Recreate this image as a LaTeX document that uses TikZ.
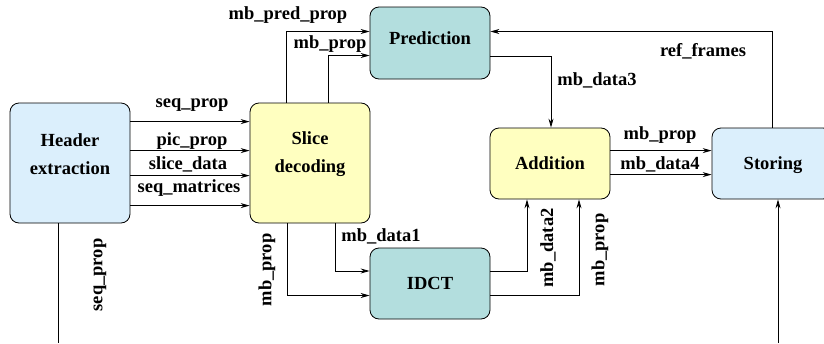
\documentclass[tikz,border=0pt]{standalone}
\usepackage{fontspec}
\setmainfont{Liberation Serif}
\usetikzlibrary{arrows.meta}
\definecolor{boxblue}{HTML}{DBEFFC}
\definecolor{boxyellow}{HTML}{FFFFC0}
\definecolor{boxteal}{HTML}{B3DEDE}
\tikzset{
  block/.style={draw=black, line width=0.8pt, rounded corners=9pt, inner sep=0pt},
  blockwide/.style={block, minimum width=120pt, minimum height=120pt},
  blockflat/.style={block, minimum width=120pt, minimum height=71pt},
  txt/.style={font=\fontsize{18.5}{28}\selectfont\bfseries, inner sep=0pt, align=center},
  lbl/.style={font=\fontsize{18.5}{22}\selectfont\bfseries, inner sep=0pt},
  arr/.style={line width=0.8pt, -{Stealth[length=9pt,width=5pt,inset=3pt]}},
  wire/.style={line width=0.8pt}
}
\begin{document}
\begin{tikzpicture}[x=1pt, y=-1pt]
\useasboundingbox (0,0) rectangle (824,343);
\clip (0,0) rectangle (824,343);

% blocks
\node[blockwide, fill=boxblue]   (hdr)  at (70,163)   {};
\node[blockwide, fill=boxyellow] (slc)  at (310,163)  {};
\node[blockflat, fill=boxteal, minimum height=72pt] (pred) at (430,43) {};
\node[blockflat, fill=boxteal]   (idct) at (430,283.5) {};
\node[blockflat, fill=boxyellow] (add)  at (550,163.5) {};
\node[blockflat, fill=boxblue]   (stor) at (772,163.5) {};

% block titles
\node[txt] (hdrtxt)  at (70,154)  {Header\\extraction};
\node[txt] (slctxt)  at (310,154) {Slice\\decoding};
\node[txt] (predtxt) at (430,38)  {Prediction};
\node[txt] (idcttxt) at (430,283) {IDCT};
\node[txt] (addtxt)  at (550,163.5) {Addition};
\node[txt] (stortxt) at (773,165.5) {Storing};

% header extraction -> slice decoding
\draw[arr] ([yshift=-19pt]hdr.north east)  -- ([yshift=-19pt]slc.north west);
\draw[arr] ([yshift=-48pt]hdr.north east)  -- ([yshift=-48pt]slc.north west);
\draw[arr] ([yshift=-73pt]hdr.north east)  -- ([yshift=-73pt]slc.north west);
\draw[arr] ([yshift=-103pt]hdr.north east) -- ([yshift=-103pt]slc.north west);
\node[lbl] (l1) at (192,105) {seq\_prop};
\node[lbl] (l2) at (192,141) {pic\_prop};
\node[lbl] (l3) at (188,164) {slice\_data};
\node[lbl] (l4) at (189,188) {seq\_matrices};

% sequence properties leaving the header downwards
\coordinate (hdrout) at (58,343);
\draw[wire] (hdr.south -| hdrout) -- (hdrout);
\node[lbl, rotate=90] (l5) at (100,275) {seq\_prop};

% slice decoding -> prediction
\coordinate (pp1) at (286,31.5);
\coordinate (pp2) at (328,55.5);
\draw[arr] (slc.north -| pp1) -- (pp1) -- (pred.west |- pp1);
\draw[arr] (slc.north -| pp2) -- (pp2) -- (pred.west |- pp2);
\node[lbl] (l6) at (288,15) {mb\_pred\_prop};
\node[lbl] (l7) at (330,44)  {mb\_prop};

% slice decoding -> IDCT
\coordinate (sd1) at (335,271);
\coordinate (sd2) at (287,295.5);
\draw[arr] (slc.south -| sd1) -- (sd1) -- (idct.west |- sd1);
\draw[arr] (slc.south -| sd2) -- (sd2) -- (idct.west |- sd2);
\node[lbl] (l8) at (381,236) {mb\_data1};
\node[lbl, rotate=90] (l9) at (267,270) {mb\_prop};

% IDCT -> addition
\coordinate (ia1) at (527,271);
\coordinate (ia2) at (579,295.5);
\draw[arr] (idct.east |- ia1) -- (ia1) -- (add.south -| ia1);
\draw[arr] (idct.east |- ia2) -- (ia2) -- (add.south -| ia2);
\node[lbl, rotate=90] (l10) at (548,248) {mb\_data2};
\node[lbl, rotate=90] (l11) at (600,250) {mb\_prop};

% prediction -> addition
\coordinate (pa) at (551,56);
\draw[arr] (pred.east |- pa) -- (pa) -- (add.north -| pa);
\node[lbl] (l12) at (597,80) {mb\_data3};

% addition -> storing
\draw[arr] ([yshift=-23pt]add.north east) -- ([yshift=-23pt]stor.north west);
\draw[arr] ([yshift=-47pt]add.north east) -- ([yshift=-47pt]stor.north west);
\node[lbl] (l13) at (660,135) {mb\_prop};
\node[lbl] (l14) at (660,164) {mb\_data4};

% storing -> prediction (reference frames)
\coordinate (rf) at (772.5,31.5);
\draw[arr] (stor.north -| rf) -- (rf) -- (pred.east |- rf);
\node[lbl] (l15) at (703,51) {ref\_frames};

% input into storing from below
\coordinate (stin) at (778,343);
\draw[arr] (stin) -- (stor.south -| stin);
\end{tikzpicture}
\end{document}
